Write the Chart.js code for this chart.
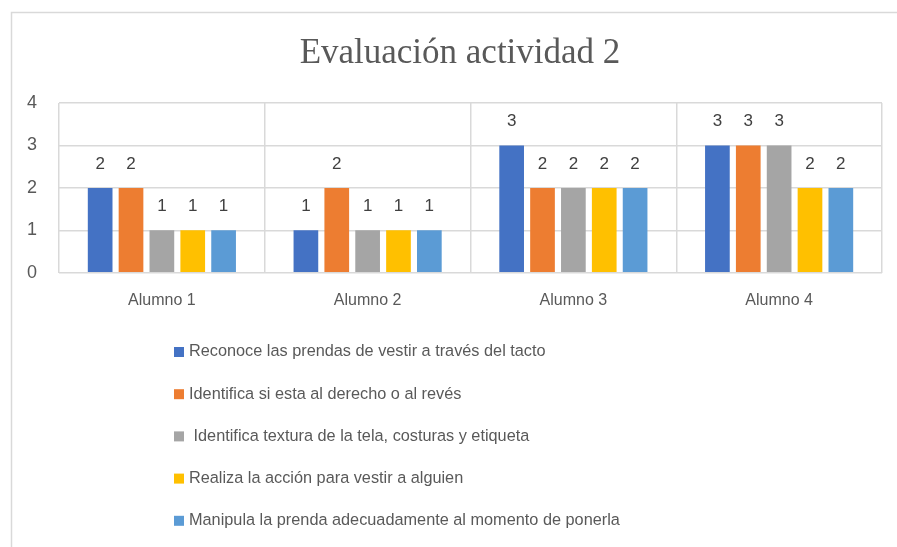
<!DOCTYPE html>
<html>
<head>
<meta charset="utf-8">
<title>Evaluación actividad 2</title>
<script src="https://cdn.jsdelivr.net/npm/chart.js@4/dist/chart.umd.min.js"></script>
<style>
    html, body { margin: 0; padding: 0; background: #fff; }
    #wrap { position: relative; width: 897px; height: 547px; }
</style>
</head>
<body>
<div id="wrap"><canvas id="eval_chart"></canvas></div>
<script>
var chartTitle = "Evaluación actividad 2";
var categories = ["Alumno 1", "Alumno 2", "Alumno 3", "Alumno 4"];
var seriesNames = [
    "Reconoce las prendas de vestir a través del tacto",
    "Identifica si esta al derecho o al revés",
    " Identifica textura de la tela, costuras y etiqueta",
    "Realiza la acción para vestir a alguien",
    "Manipula la prenda adecuadamente al momento de ponerla"
];
var reconoce = [2, 1, 3, 3];
var identifica = [2, 2, 2, 3];
var textura = [1, 1, 2, 3];
var realiza = [1, 1, 2, 2];
var manipula = [1, 1, 2, 2];
var yMin = 0, yMax = 4, yStep = 1;

var colors = ['#4472C4', '#ED7D31', '#A5A5A5', '#FFC000', '#5B9BD5'];
var values = [reconoce, identifica, textura, realiza, manipula];
var textColor = '#595959';
var gridColor = '#d9d9d9';
var sans = "'Liberation Sans', Arial, sans-serif";

var data_db = [];
for (var i = 0; i < seriesNames.length; i++) {
    data_db.push({
        "label": seriesNames[i],
        "data": values[i],
        "backgroundColor": colors[i],
        "borderWidth": 0,
        "categoryPercentage": 0.75,
        "barPercentage": 0.8
    });
}

// frame around the whole chart (light grey, runs off the page) + title
var framePlugin = {
    id: 'frame',
    beforeDraw: function(chart) {
        var ctx = chart.ctx;
        ctx.save();
        ctx.strokeStyle = gridColor;
        ctx.lineWidth = 1.5;
        ctx.strokeRect(11.5, 12.5, 900, 600);
        ctx.fillStyle = textColor;
        ctx.font = "35px 'Liberation Serif', 'Times New Roman', serif";
        ctx.textAlign = 'center';
        ctx.textBaseline = 'alphabetic';
        ctx.fillText(chartTitle, 460, 63);
        ctx.restore();
    }
};

// value labels above each bar
var valuePlugin = {
    id: 'values',
    afterDatasetsDraw: function(chart) {
        var ctx = chart.ctx;
        ctx.save();
        ctx.fillStyle = '#404040';
        ctx.font = "17px " + sans;
        ctx.textAlign = 'center';
        ctx.textBaseline = 'middle';
        chart.data.datasets.forEach(function(ds, d) {
            chart.getDatasetMeta(d).data.forEach(function(bar, k) {
                ctx.fillText(ds.data[k], bar.x, bar.y - 24);
            });
        });
        ctx.restore();
    }
};

// one legend entry per line under the axis
var legendPlugin = {
    id: 'listLegend',
    afterDraw: function(chart) {
        var ctx = chart.ctx;
        ctx.save();
        ctx.font = "16.3px " + sans;
        ctx.textBaseline = 'middle';
        ctx.textAlign = 'left';
        chart.data.datasets.forEach(function(ds, d) {
            var y = 352 + d * 42.2;
            ctx.fillStyle = ds.backgroundColor;
            ctx.fillRect(174, y - 5, 10, 10);
            ctx.fillStyle = textColor;
            ctx.fillText(ds.label, 189, y);
        });
        ctx.restore();
    }
};

new Chart(document.getElementById("eval_chart"), {
    "type": "bar",
    "data": {
        "labels": categories,
        "datasets": data_db
    },
    "options": {
        responsive: true,
        maintainAspectRatio: false,
        animation: false,
        layout: { padding: { left: 15, right: 15, top: 103, bottom: 219 } },
        plugins: {
            legend: { display: false },
            tooltip: { enabled: false },
            title: { display: false }
        },
        scales: {
            x: {
                grid: { color: gridColor, lineWidth: 1.5, drawTicks: false, offset: true },
                border: { display: false },
                ticks: { color: textColor, font: { family: sans, size: 16 }, padding: 18 }
            },
            y: {
                min: yMin,
                max: yMax,
                afterFit: function(scale) { scale.width = 44; },
                grid: { color: gridColor, lineWidth: 1.5, drawTicks: false },
                border: { display: false },
                ticks: { stepSize: yStep, color: textColor, font: { family: sans, size: 18 }, padding: 22 }
            }
        }
    },
    plugins: [framePlugin, valuePlugin, legendPlugin]
});
</script>
</body>
</html>
